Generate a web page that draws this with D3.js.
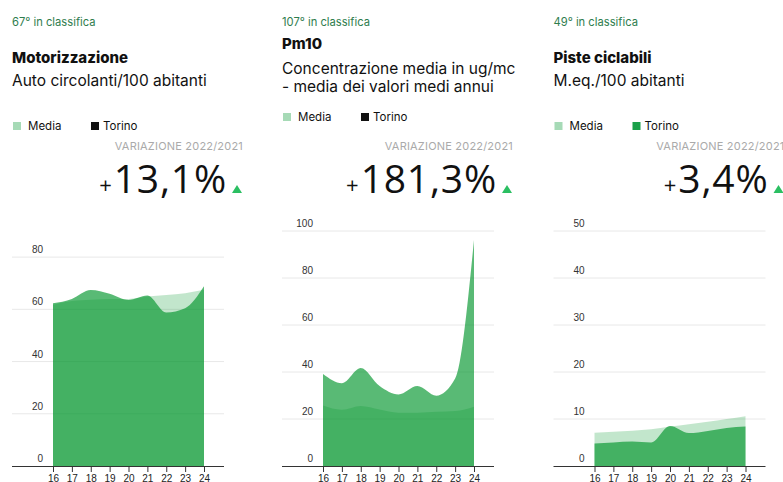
<!DOCTYPE html>
<html>
<head>
<meta charset="utf-8">
<script src="https://cdn.jsdelivr.net/npm/d3@7"></script>
<style>
  body { margin: 0; background: #fff; }
  svg { display: block; font-family: "Inter", "Noto Sans", sans-serif; }
</style>
</head>
<body>
<svg id="chart" width="783" height="482"></svg>
<script>
// anni sull'asse x
const anni = ["16", "17", "18", "19", "20", "21", "22", "23", "24"];

// Motorizzazione - auto circolanti/100 abitanti
const motorizzazioneMedia = [61.8, 63.2, 63.7, 64.0, 64.0, 64.9, 65.5, 66.2, 67.5];
const motorizzazioneTorino = [62.3, 64.0, 67.4, 66.0, 63.6, 65.3, 58.8, 60.4, 68.8];
const motorizzazioneTicks = [0, 20, 40, 60, 80];

// Pm10 - concentrazione media
const pm10Media = [25.7, 23.9, 25.5, 24.0, 22.7, 22.7, 23.1, 23.4, 25.2];
const pm10Torino = [39.1, 35.2, 41.7, 34.0, 30.4, 34.0, 29.9, 37.2, 96.2];
const pm10Ticks = [0, 20, 40, 60, 80, 100];

// Piste ciclabili - m.eq./100 abitanti
const pisteMedia = [7.1, 7.3, 7.5, 7.8, 8.4, 8.9, 9.4, 10.0, 10.6];
const pisteTorino = [4.8, 5.0, 5.2, 5.0, 8.5, 7.0, 7.45, 8.1, 8.4];
const pisteTicks = [0, 10, 20, 30, 40, 50];

const ranks = ["67° in classifica", "107° in classifica", "49° in classifica"];
const titles = ["Motorizzazione", "Pm10", "Piste ciclabili"];
const subtitles = [["Auto circolanti/100 abitanti"], ["Concentrazione media in ug/mc", "- media dei valori medi annui"], ["M.eq./100 abitanti"]];
const variazioni = ["13,1%", "181,3%", "3,4%"];

const panels = [
  { media: motorizzazioneMedia, torino: motorizzazioneTorino, ticks: motorizzazioneTicks, max: 90, torinoKey: "#111" },
  { media: pm10Media, torino: pm10Torino, ticks: pm10Ticks, max: 100, torinoKey: "#111" },
  { media: pisteMedia, torino: pisteTorino, ticks: pisteTicks, max: 50, torinoKey: "#1aa04a" }
];

const svg = d3.select("#chart");
const green = "#00952b";
const offsets = [0, 270, 541.5];

panels.forEach((p, i) => {
  const g = svg.append("g").attr("transform", `translate(${offsets[i]},0)`);
  const twoLines = subtitles[i].length > 1;

  // testi in alto
  g.append("text").attr("x", 12).attr("y", 25.5)
    .attr("font-size", 11.2).attr("fill", "#2f7d4e").text(ranks[i]);

  const titleY = twoLines ? 49 : 62.5;
  g.append("text").attr("x", 12).attr("y", titleY)
    .attr("font-size", 15).attr("font-weight", 800).attr("fill", "#111").text(titles[i]);

  subtitles[i].forEach((s, k) => {
    g.append("text").attr("x", 12).attr("y", (twoLines ? 73.5 : 86) + k * 18)
      .attr("font-size", 15.5).attr("fill", "#111").text(s);
  });

  // legenda
  const ly = twoLines ? 117 : 126;
  g.append("rect").attr("x", 13).attr("y", ly - 4).attr("width", 8).attr("height", 8).attr("fill", "#a6dab6");
  g.append("text").attr("x", 28).attr("y", ly + 4).attr("font-size", 11.5).attr("fill", "#111").text("Media");
  g.append("rect").attr("x", 91).attr("y", ly - 4).attr("width", 8).attr("height", 8).attr("fill", p.torinoKey);
  g.append("text").attr("x", 103).attr("y", ly + 4).attr("font-size", 11.5).attr("fill", "#111").text("Torino");

  // variazione
  g.append("text").attr("x", 243).attr("y", 149.5).attr("text-anchor", "end")
    .attr("font-size", 11).attr("fill", "#aaa").attr("letter-spacing", 0.2).text("VARIAZIONE 2022/2021");

  const big = g.append("text").attr("x", 227).attr("y", 192.5).attr("text-anchor", "end")
    .attr("font-family", "Open Sans, sans-serif").attr("fill", "#111");
  big.append("tspan").attr("font-size", 22).text("+");
  big.append("tspan").attr("font-size", 39).attr("dx", 2).attr("letter-spacing", 0.8).text(variazioni[i]);
  g.append("path").attr("d", "M232,193 L237,185 L242,193 Z").attr("fill", "#2bbf62");

  // grafico ad area
  const x = d3.scalePoint().domain(anni).range([53, 204]);
  const y = d3.scaleLinear().domain([0, p.max]).range([466, 231]);

  g.selectAll(".grid").data(p.ticks.filter(t => t > 0)).enter().append("line")
    .attr("x1", 12).attr("x2", 224)
    .attr("y1", d => y(d)).attr("y2", d => y(d))
    .attr("stroke", "#e8e8e8");

  g.selectAll(".ylab").data(p.ticks).enter().append("text")
    .attr("x", 43).attr("y", d => y(d) - 4).attr("text-anchor", "end")
    .attr("font-family", "Liberation Sans, Arial, sans-serif")
    .attr("font-size", 10).attr("fill", "#333").text(d => d);

  const area = data => d3.area()
    .x((d, k) => x(anni[k]))
    .y0(y(0)).y1(d => y(d))
    .curve(d3.curveMonotoneX)(data);

  g.append("path").attr("d", area(p.media)).attr("fill", green).attr("fill-opacity", 0.24);
  g.append("path").attr("d", area(p.torino)).attr("fill", green).attr("fill-opacity", 0.65);

  // asse x
  g.append("line").attr("x1", 12).attr("x2", 224).attr("y1", 466.5).attr("y2", 466.5)
    .attr("stroke", "#333");
  const ax = g.append("g").attr("transform", "translate(0,466)")
    .call(d3.axisBottom(x).tickSize(6).tickSizeOuter(0));
  ax.select(".domain").remove();
  ax.selectAll("line").attr("stroke", "#333");
  ax.selectAll("text").attr("font-family", "Liberation Sans, Arial, sans-serif")
    .attr("font-size", 10).attr("fill", "#222");
});
</script>
</body>
</html>
